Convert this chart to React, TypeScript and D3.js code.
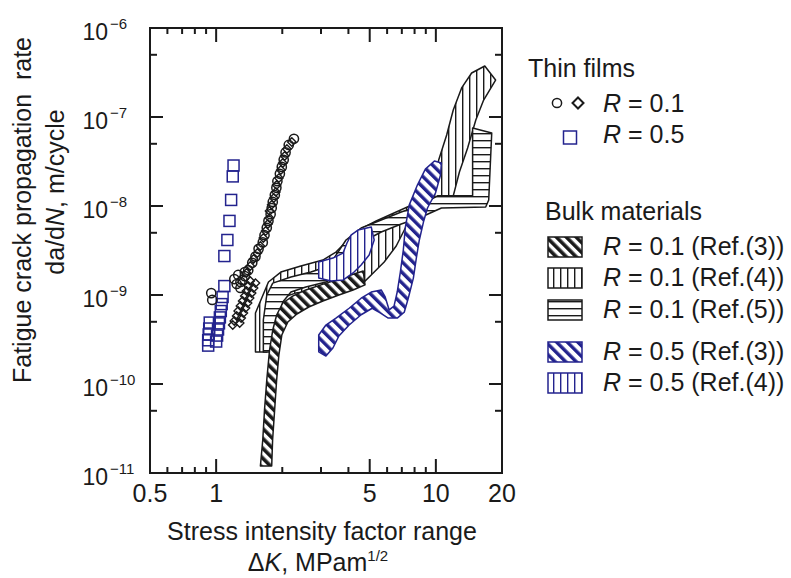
import React from 'react';
import * as d3 from 'd3';

type Pt = [number, number]; // [deltaK (MPa m^1/2), da/dN (m/cycle)]

// axis ticks
const xLabelTicks = [0.5, 1, 5, 10, 20];
const xMajorTicks = [1, 5, 10];
const xMinorTicks = [0.6, 0.7, 0.8, 0.9, 2, 3, 4, 6, 7, 8, 9];
const yDecades = [-6, -7, -8, -9, -10, -11];
const yMinorTicks = [5e-7, 5e-8, 5e-9, 5e-10, 5e-11];

// thin films, R = 0.1 (open circles and diamonds)
const thinR01Circles: Pt[] = [
  [2.26, 5.7e-8], [2.14, 4.85e-8], [2.07, 4.0e-8], [2.03, 3.3e-8], [1.99, 2.75e-8],
  [1.95, 2.3e-8], [1.9, 1.9e-8], [1.88, 1.6e-8], [1.85, 1.33e-8], [1.81, 1.11e-8],
  [1.79, 9.5e-9], [1.77, 8.1e-9], [1.73, 6.8e-9], [1.7, 5.7e-9], [1.66, 4.7e-9],
  [1.63, 3.9e-9], [1.56, 3.3e-9], [1.51, 2.7e-9], [1.46, 2.3e-9], [1.4, 1.9e-9],
  [1.35, 1.63e-9], [1.29, 1.4e-9], [1.26, 1.68e-9], [1.32, 1.47e-9], [1.24, 1.33e-9],
  [1.35, 1.81e-9], [1.29, 1.2e-9], [1.21, 1.51e-9], [0.95, 1.05e-9], [0.96, 8.8e-10],
];
const thinR01Diamonds: Pt[] = [
  [2.21, 5.24e-8], [2.1, 4.37e-8], [2.05, 3.65e-8], [2.01, 3.04e-8], [1.97, 2.54e-8],
  [1.93, 2.06e-8], [1.885, 1.72e-8], [1.87, 1.44e-8], [1.83, 1.23e-8], [1.79, 1.03e-8],
  [1.75, 8.78e-9], [1.75, 7.33e-9], [1.72, 6.28e-9], [1.68, 5.24e-9], [1.64, 4.37e-9],
  [1.59, 3.55e-9], [1.54, 2.96e-9], [1.48, 2.54e-9], [1.43, 2.12e-9], [1.375, 1.77e-9],
  [1.43, 1.44e-9], [1.4, 1.26e-9], [1.375, 1.11e-9], [1.35, 9.74e-10], [1.32, 8.56e-10],
  [1.29, 7.52e-10], [1.26, 6.61e-10], [1.24, 5.81e-10], [1.21, 5.1e-10], [1.19, 4.6e-10],
  [1.51, 1.36e-9], [1.48, 1.2e-9], [1.45, 1.05e-9], [1.42, 9.25e-10], [1.39, 8.13e-10],
  [1.36, 7.14e-10], [1.33, 6.28e-10], [1.3, 5.51e-10], [1.28, 4.85e-10],
];
// thin films, R = 0.5 (open squares)
const thinR05Squares: Pt[] = [
  [1.2, 2.85e-8], [1.19, 2.15e-8], [1.17, 1.17e-8], [1.15, 6.8e-9], [1.125, 4.15e-9],
  [1.09, 2.74e-9], [1.09, 1.26e-9], [1.07, 9.5e-10], [1.06, 7.9e-10], [1.05, 6.6e-10],
  [1.04, 5.6e-10], [1.03, 4.8e-10], [1.02, 4.1e-10], [1.01, 3.5e-10], [1.0, 3.0e-10],
  [0.92, 2.7e-10], [0.92, 3.1e-10], [0.925, 3.6e-10], [0.93, 4.2e-10], [0.935, 4.9e-10],
];

// bulk materials: outlines of the scatter bands
const bulkR01Ref4: Pt[] = [
  [1.51, 2.29e-10], [1.7, 2.29e-10], [1.73, 4.04e-10], [1.85, 6.78e-10], [1.97, 9.25e-10],
  [2.3, 1.05e-9], [3.0, 1.14e-9], [3.9, 1.14e-9], [4.57, 1.3e-9], [5.08, 1.68e-9],
  [5.82, 2.35e-9], [6.6, 3.55e-9], [7.34, 5.96e-9], [8.07, 8.56e-9], [10.6, 9.74e-9],
  [12.0, 1.3e-8], [12.8, 2.41e-8], [13.95, 4.49e-8], [15.2, 9.25e-8], [16.5, 1.55e-7],
  [18.7, 2.6e-7], [16.7, 3.74e-7], [14.55, 3.12e-7], [13.1, 2.12e-7], [12.0, 1.2e-7],
  [11.2, 6.28e-8], [10.3, 3.29e-8], [9.85, 1.72e-8], [8.15, 1.08e-8], [6.6, 8.56e-9],
  [5.35, 6.78e-9], [4.47, 5.37e-9], [3.98, 4.15e-9], [3.51, 3.04e-9], [3.06, 2.47e-9],
  [2.43, 2.12e-9], [1.97, 1.81e-9], [1.73, 1.4e-9], [1.51, 6.28e-10],
];
const bulkR01Ref5: Pt[] = [
  [1.64, 2.29e-10], [1.64, 5.24e-10], [1.7, 1.0e-9], [1.81, 1.36e-9], [2.19, 1.59e-9],
  [2.7, 1.81e-9], [3.26, 2.12e-9], [3.9, 4.15e-9], [4.57, 5.66e-9], [5.64, 6.96e-9],
  [6.96, 8.56e-9], [8.59, 1.03e-8], [10.17, 1.3e-8], [14.7, 1.3e-8], [14.7, 7.52e-8],
  [17.96, 6.61e-8], [17.4, 1.17e-8], [16.86, 9.74e-9], [10.6, 9.5e-9], [8.59, 7.52e-9],
  [6.96, 6.28e-9], [5.64, 5.1e-9], [4.81, 4.15e-9], [4.33, 2.81e-9], [3.78, 1.77e-9],
  [3.16, 1.4e-9], [2.56, 1.23e-9], [2.19, 1.08e-9], [2.01, 8.33e-10], [1.925, 5.24e-10],
  [1.866, 2.29e-10],
];
const bulkR01Ref3: Pt[] = [
  [1.59, 1.2e-11], [1.63, 2.35e-11], [1.66, 5.1e-11], [1.7, 1.11e-10], [1.75, 2.41e-10],
  [1.81, 4.04e-10], [1.885, 5.96e-10], [2.01, 8.13e-10], [2.23, 9.7e-10], [2.56, 1.14e-9],
  [3.0, 1.3e-9], [3.51, 1.47e-9], [4.11, 1.68e-9], [4.67, 1.86e-9], [4.76, 1.3e-9],
  [4.2, 1.14e-9], [3.62, 1.0e-9], [3.06, 8.56e-10], [2.64, 7.33e-10], [2.33, 6.12e-10],
  [2.12, 4.97e-10], [1.99, 3.55e-10], [1.93, 2.12e-10], [1.885, 1.11e-10], [1.846, 5.1e-11],
  [1.807, 2.35e-11], [1.79, 1.2e-11],
];
const bulkR05Ref4: Pt[] = [
  [2.93, 1.55e-9], [2.93, 2.35e-9], [3.4, 2.6e-9], [3.78, 2.96e-9], [3.94, 3.84e-9],
  [4.11, 4.72e-9], [4.42, 5.37e-9], [5.08, 5.81e-9], [5.24, 4.15e-9], [4.97, 2.81e-9],
  [4.57, 2.17e-9], [4.2, 1.77e-9], [3.78, 1.47e-9], [3.33, 1.44e-9],
];
const bulkR05Ref3: Pt[] = [
  [2.93, 2.3e-10], [2.93, 3.55e-10], [3.16, 4.6e-10], [3.51, 5.5e-10], [4.03, 7.1e-10],
  [4.57, 9.2e-10], [5.08, 1.08e-9], [5.64, 1.14e-9], [5.88, 9.5e-10], [6.13, 6.8e-10],
  [6.45, 7.5e-10], [6.67, 1.08e-9], [6.89, 1.8e-9], [7.11, 3.2e-9], [7.26, 5.7e-9],
  [7.57, 1.03e-8], [8.24, 1.72e-8], [8.96, 2.6e-8], [9.85, 3.2e-8], [10.6, 3.04e-8],
  [10.5, 2.23e-8], [9.96, 1.4e-8], [9.16, 9.5e-9], [8.78, 6.6e-9], [8.41, 4.15e-9],
  [8.15, 2.6e-9], [7.9, 1.55e-9], [7.49, 9.2e-10], [7.18, 6.4e-10], [6.67, 5.5e-10],
  [6.07, 5.5e-10], [5.58, 6.3e-10], [5.13, 7.1e-10], [4.57, 6.0e-10], [4.03, 4.6e-10],
  [3.62, 3.46e-10], [3.4, 2.54e-10], [3.16, 2.06e-10],
];

const BLUE = '#23238e';
const INK = '#1a1a1a';
const FONT = '"Liberation Sans", Arial, sans-serif';

// legend entries for the bulk bands
const bulkLegend = [
  { r: '0.1', ref: '3', fill: 'url(#pBlackDiag)', stroke: INK },
  { r: '0.1', ref: '4', fill: 'url(#pBlackVert)', stroke: INK },
  { r: '0.1', ref: '5', fill: 'url(#pBlackHorz)', stroke: INK },
  { r: '0.5', ref: '3', fill: 'url(#pBlueDiag)', stroke: BLUE },
  { r: '0.5', ref: '4', fill: 'url(#pBlueVert)', stroke: BLUE },
];

export default function App() {
  const width = 791;
  const height = 578;
  const plot = { left: 150, right: 502, top: 28, bottom: 473 };

  const x = d3.scaleLog().domain([0.5, 20]).range([plot.left, plot.right]);
  const y = d3.scaleLog().domain([1e-11, 1e-6]).range([plot.bottom, plot.top]);

  const bandPath = d3.line<Pt>()
    .x(d => x(d[0]))
    .y(d => y(d[1]))
    .curve(d3.curveLinearClosed);

  const diamond = (cx: number, cy: number, s: number) =>
    `M${cx},${cy - s}L${cx + s},${cy}L${cx},${cy + s}L${cx - s},${cy}Z`;

  const bands = [
    { data: bulkR01Ref4, fill: 'url(#pBlackVert)', stroke: INK },
    { data: bulkR01Ref5, fill: 'url(#pBlackHorz)', stroke: INK },
    { data: bulkR01Ref3, fill: 'url(#pBlackDiag)', stroke: INK },
    { data: bulkR05Ref4, fill: 'url(#pBlueVert)', stroke: BLUE },
    { data: bulkR05Ref3, fill: 'url(#pBlueDiag)', stroke: BLUE },
  ];

  const legendRowTop = [237, 268, 300, 342, 373];

  return (
    <div style={{ position: 'absolute', left: 0, top: 0 }}>
      <svg width={width} height={height} style={{ display: 'block', background: '#fff', fontFamily: FONT }}>
        <defs>
          <pattern id="pBlackDiag" patternUnits="userSpaceOnUse" width="7" height="7" patternTransform="rotate(-45)">
            <rect width="7" height="7" fill="#fff" />
            <rect width="3.6" height="7" fill={INK} />
          </pattern>
          <pattern id="pBlueDiag" patternUnits="userSpaceOnUse" width="7.5" height="7.5" patternTransform="rotate(-45)">
            <rect width="7.5" height="7.5" fill="#fff" />
            <rect width="3.4" height="7.5" fill={BLUE} />
          </pattern>
          <pattern id="pBlackVert" patternUnits="userSpaceOnUse" width="7" height="7">
            <rect width="7" height="7" fill="#fff" />
            <rect x="0" width="1.4" height="7" fill={INK} />
          </pattern>
          <pattern id="pBlueVert" patternUnits="userSpaceOnUse" width="7" height="7">
            <rect width="7" height="7" fill="#fff" />
            <rect x="0" width="1.4" height="7" fill={BLUE} />
          </pattern>
          <pattern id="pBlackHorz" patternUnits="userSpaceOnUse" width="7" height="7">
            <rect width="7" height="7" fill="#fff" />
            <rect y="0" width="7" height="1.4" fill={INK} />
          </pattern>
          <clipPath id="plotClip">
            <rect x={plot.left} y={plot.top} width={plot.right - plot.left} height={plot.bottom - plot.top} />
          </clipPath>
        </defs>

        {/* bulk bands */}
        <g clipPath="url(#plotClip)">
          {bands.map((b, i) => (
            <path key={i} d={bandPath(b.data) || ''} fill={b.fill} stroke={b.stroke} strokeWidth={1.5} strokeLinejoin="round" />
          ))}

          {/* thin films */}
          {thinR05Squares.map((d, i) => (
            <rect key={'s' + i} x={x(d[0]) - 5.5} y={y(d[1]) - 5.5} width={11} height={11}
              fill="none" stroke={BLUE} strokeWidth={1.5} />
          ))}
          {thinR01Circles.map((d, i) => (
            <circle key={'c' + i} cx={x(d[0])} cy={y(d[1])} r={4.6} fill="none" stroke={INK} strokeWidth={1.5} />
          ))}
          {thinR01Diamonds.map((d, i) => (
            <path key={'d' + i} d={diamond(x(d[0]), y(d[1]), 4.2)} fill="none" stroke={INK} strokeWidth={1.4} />
          ))}
        </g>

        {/* frame */}
        <rect x={plot.left} y={plot.top} width={plot.right - plot.left} height={plot.bottom - plot.top}
          fill="none" stroke={INK} strokeWidth={2} />

        {/* ticks, inward on all four sides */}
        <g stroke={INK} strokeWidth={2}>
          {xMajorTicks.map(t => (
            <g key={'xM' + t}>
              <line x1={x(t)} x2={x(t)} y1={plot.bottom} y2={plot.bottom - 14} />
              <line x1={x(t)} x2={x(t)} y1={plot.top} y2={plot.top + 14} />
            </g>
          ))}
          {xMinorTicks.map(t => (
            <g key={'xm' + t}>
              <line x1={x(t)} x2={x(t)} y1={plot.bottom} y2={plot.bottom - 6} />
              <line x1={x(t)} x2={x(t)} y1={plot.top} y2={plot.top + 6} />
            </g>
          ))}
          {yDecades.map(e => (
            <g key={'yM' + e}>
              <line x1={plot.left} x2={plot.left + 13} y1={y(Math.pow(10, e))} y2={y(Math.pow(10, e))} />
              <line x1={plot.right} x2={plot.right - 13} y1={y(Math.pow(10, e))} y2={y(Math.pow(10, e))} />
            </g>
          ))}
          {yMinorTicks.map(t => (
            <g key={'ym' + t}>
              <line x1={plot.left} x2={plot.left + 7} y1={y(t)} y2={y(t)} />
              <line x1={plot.right} x2={plot.right - 7} y1={y(t)} y2={y(t)} />
            </g>
          ))}
        </g>

        {/* tick labels */}
        <g fill={INK} fontSize={25}>
          {xLabelTicks.map(t => (
            <text key={'xl' + t} x={x(t)} y={502} textAnchor="middle">{t}</text>
          ))}
        </g>
        <g fill={INK}>
          {yDecades.map(e => {
            const ty = y(Math.pow(10, e));
            return (
              <g key={'yl' + e}>
                <text x={108} y={ty + 12} textAnchor="end" fontSize={23}>10</text>
                <text x={110} y={ty + 1} fontSize={15}>{'\u2212' + Math.abs(e)}</text>
              </g>
            );
          })}
        </g>

        {/* axis titles */}
        <g fill={INK} fontSize={25}>
          <text x={322} y={540} textAnchor="middle">Stress intensity factor range</text>
          <text x={318} y={571} textAnchor="middle">
            {'\u0394'}<tspan fontStyle="italic">K</tspan>, MPam
            <tspan fontSize={15} dy={-10}>1/2</tspan>
          </text>
          <text transform="translate(31,210) rotate(-90)" textAnchor="middle" style={{ whiteSpace: 'pre' }}>
            {'Fatigue crack propagation  rate'}
          </text>
          <text transform="translate(64,192) rotate(-90)" textAnchor="middle">
            da/d<tspan fontStyle="italic">N</tspan>, m/cycle
          </text>
        </g>

        {/* legend */}
        <g fill={INK} fontSize={25}>
          <text x={528} y={77}>Thin films</text>
          <circle cx={557} cy={103} r={4.6} fill="none" stroke={INK} strokeWidth={1.5} />
          <path d={diamond(578, 103, 5.5)} fill="none" stroke={INK} strokeWidth={2} />
          <text x={603} y={112}><tspan fontStyle="italic">R</tspan> = 0.1</text>
          <rect x={563.5} y={131} width={13} height={13} fill="none" stroke={BLUE} strokeWidth={1.5} />
          <text x={603} y={143}><tspan fontStyle="italic">R</tspan> = 0.5</text>

          <text x={545} y={220}>Bulk materials</text>
          {bulkLegend.map((l, i) => (
            <g key={'lg' + i}>
              <rect x={548} y={legendRowTop[i]} width={34} height={20} fill={l.fill} stroke={l.stroke} strokeWidth={1.5} />
              <text x={603} y={legendRowTop[i] + 18}>
                <tspan fontStyle="italic">R</tspan>{` = ${l.r} (Ref.(${l.ref}))`}
              </text>
            </g>
          ))}
        </g>
      </svg>
    </div>
  );
}
